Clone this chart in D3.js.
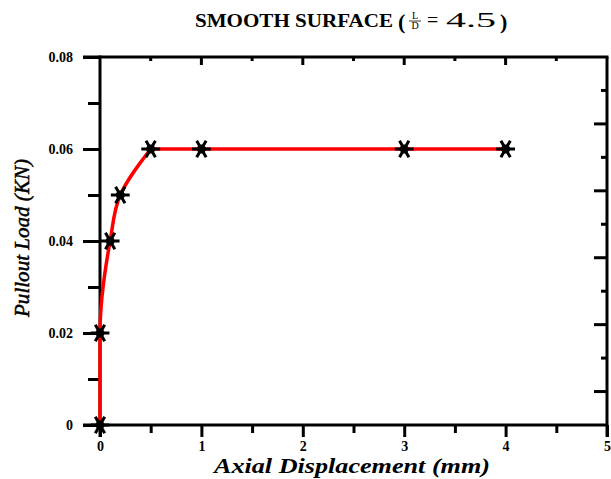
<!DOCTYPE html>
<html>
<head>
<meta charset="utf-8">
<script src="https://cdn.jsdelivr.net/npm/d3@7"></script>
<style>
  body { margin: 0; background: #fff; }
  svg { display: block; }
  text { font-family: "Liberation Serif", "DejaVu Serif", serif; }
</style>
</head>
<body>
<div class="chart"></div>
<script>
const w = 611;
const h = 479;

// data
const displacement = [0, 0, 0.1, 0.2, 0.5, 1, 3, 4];
const load = [0, 0.02, 0.04, 0.05, 0.06, 0.06, 0.06, 0.06];
const xTicks = [0, 1, 2, 3, 4, 5];
const yTicks = [0, 0.02, 0.04, 0.06, 0.08];
const yTickLabels = ["0", "0.02", "0.04", "0.06", "0.08"];

const m = {left: 100, right: 4, top: 57, bottom: 54};

const svg = d3.select(".chart").append("svg")
  .attr("width", w)
  .attr("height", h);

const x = d3.scaleLinear().domain([0, 5]).range([m.left, w - m.right]);
const y = d3.scaleLinear().domain([0, 0.08]).range([h - m.bottom, m.top]);

// right axis of the original has its own (odd) ticks: 11 divisions
const rightDiv = d3.range(1, 11);

// frame: top and right
svg.append("line")
  .attr("x1", 83).attr("x2", x(5) + 1.5)
  .attr("y1", y(0.08)).attr("y2", y(0.08))
  .attr("stroke", "#000").attr("stroke-width", 3);
svg.append("line")
  .attr("x1", x(5)).attr("x2", x(5))
  .attr("y1", y(0.08)).attr("y2", y(0) + 12)
  .attr("stroke", "#000").attr("stroke-width", 3);

// top ticks (inward)
svg.append("g").selectAll("line")
  .data(d3.range(0.5, 5, 0.5))
  .join("line")
  .attr("x1", d => x(d)).attr("x2", d => x(d))
  .attr("y1", y(0.08))
  .attr("y2", d => y(0.08) + (d % 1 === 0 ? 8 : 4))
  .attr("stroke", "#000").attr("stroke-width", 3);

// right ticks (inward)
svg.append("g").selectAll("line")
  .data(rightDiv)
  .join("line")
  .attr("x1", x(5))
  .attr("x2", i => x(5) - (i % 2 === 0 ? 13 : 6))
  .attr("y1", i => y(0.08) + i * (y(0) - y(0.08)) / 11)
  .attr("y2", i => y(0.08) + i * (y(0) - y(0.08)) / 11)
  .attr("stroke", "#000").attr("stroke-width", 3);

// bottom axis
const xAxis = d3.axisBottom(x)
  .tickValues(d3.range(0, 5.01, 0.5))
  .tickSize(0)
  .tickFormat(d => xTicks.includes(d) ? d : "");
const gx = svg.append("g")
  .attr("transform", `translate(0,${y(0)})`)
  .call(xAxis);
gx.select(".domain").remove();
gx.selectAll(".tick line")
  .attr("y2", d => d % 1 === 0 ? 12 : 8)
  .attr("stroke", "#000").attr("stroke-width", 3);
gx.selectAll(".tick text")
  .attr("y", 16)
  .attr("dy", "0.71em")
  .attr("font-family", "Liberation Serif")
  .attr("font-weight", "bold")
  .attr("font-size", 14)
  .attr("fill", "#000");
svg.append("line")
  .attr("x1", 83).attr("x2", x(5))
  .attr("y1", y(0)).attr("y2", y(0))
  .attr("stroke", "#000").attr("stroke-width", 3);

// left axis
const yAxis = d3.axisLeft(y)
  .tickValues(d3.range(0, 0.0801, 0.01))
  .tickSize(0)
  .tickFormat(d => {
    const k = yTicks.findIndex(t => Math.abs(t - d) < 1e-6);
    return k >= 0 ? yTickLabels[k] : "";
  });
const gy = svg.append("g")
  .attr("transform", `translate(${x(0)},0)`)
  .call(yAxis);
gy.select(".domain").remove();
gy.selectAll(".tick line")
  .attr("x2", (d, i) => i % 2 === 0 ? -17 : -12)
  .attr("stroke", "#000").attr("stroke-width", 3);
gy.selectAll(".tick text")
  .attr("x", -27)
  .attr("dy", "0.32em")
  .attr("font-family", "Liberation Serif")
  .attr("font-weight", "bold")
  .attr("font-size", 14)
  .attr("fill", "#000");
svg.append("line")
  .attr("x1", x(0)).attr("x2", x(0))
  .attr("y1", y(0.08) - 1.5).attr("y2", y(0) + 12)
  .attr("stroke", "#000").attr("stroke-width", 3);

// data line: rising part smoothed (x as monotone function of load), plateau straight
const pts = displacement.map((d, i) => [d, load[i]]);
const peak = load.indexOf(d3.max(load));
const rise = d3.line()
  .x(d => x(d[0]))
  .y(d => y(d[1]))
  .curve(d3.curveMonotoneY);
const flat = d3.line()
  .x(d => x(d[0]))
  .y(d => y(d[1]));
const redLine = svg.append("g")
  .attr("fill", "none")
  .attr("stroke", "#ff0000")
  .attr("stroke-width", 3.5)
  .attr("stroke-linejoin", "round")
  .attr("stroke-linecap", "round");
redLine.append("path").attr("d", rise(pts.slice(0, peak + 1)));
redLine.append("path").attr("d", flat(pts.slice(peak)));

// star markers
const star = d3.symbol().type(d3.symbolAsterisk).size(250);
const mk = svg.append("g").selectAll("g")
  .data(pts)
  .join("g")
  .attr("transform", d => `translate(${x(d[0])},${y(d[1])}) rotate(90)`);
mk.append("path")
  .attr("d", star)
  .attr("fill", "none")
  .attr("stroke", "#000")
  .attr("stroke-width", 3);
mk.append("circle")
  .attr("r", 4.5)
  .attr("fill", "#000");

// axis titles
svg.append("text")
  .attr("x", 352)
  .attr("y", 473)
  .attr("text-anchor", "middle")
  .attr("font-size", 20)
  .attr("font-weight", "bold")
  .attr("font-style", "italic")
  .attr("fill", "#000")
  .attr("textLength", 276)
  .attr("lengthAdjust", "spacingAndGlyphs")
  .text("Axial Displacement (mm)");

svg.append("text")
  .attr("transform", `translate(29,238) rotate(-90)`)
  .attr("text-anchor", "middle")
  .attr("font-size", 21)
  .attr("font-style", "italic")
  .attr("fill", "#000")
  .attr("stroke", "#000")
  .attr("stroke-width", 0.5)
  .attr("textLength", 158)
  .attr("lengthAdjust", "spacingAndGlyphs")
  .text("Pullout Load (KN)");

// title with fraction L/D
const title = svg.append("g");
const base = 27;
title.append("text")
  .attr("x", 195).attr("y", base)
  .attr("font-size", 18).attr("font-weight", "bold")
  .attr("textLength", 198)
  .attr("lengthAdjust", "spacingAndGlyphs")
  .text("SMOOTH SURFACE");
title.append("text")
  .attr("x", 398).attr("y", base + 2)
  .attr("font-size", 22).attr("font-weight", "bold")
  .text("(");
title.append("text")
  .attr("x", 415).attr("y", base - 8)
  .attr("text-anchor", "middle")
  .attr("font-family", "Liberation Sans")
  .attr("font-size", 10)
  .text("L");
title.append("line")
  .attr("x1", 409).attr("x2", 421)
  .attr("y1", base - 6).attr("y2", base - 6)
  .attr("stroke", "#000").attr("stroke-width", 0.8);
title.append("text")
  .attr("x", 415).attr("y", base + 2)
  .attr("text-anchor", "middle")
  .attr("font-family", "Liberation Sans")
  .attr("font-size", 10)
  .text("D");
title.append("text")
  .attr("x", 427).attr("y", base)
  .attr("font-size", 20)
  .text("=");
title.append("text")
  .attr("x", 446).attr("y", base)
  .attr("font-size", 20)
  .attr("textLength", 50)
  .attr("lengthAdjust", "spacingAndGlyphs")
  .text("4.5");
title.append("text")
  .attr("x", 500).attr("y", base + 2)
  .attr("font-size", 22).attr("font-weight", "bold")
  .text(")");
</script>
</body>
</html>
